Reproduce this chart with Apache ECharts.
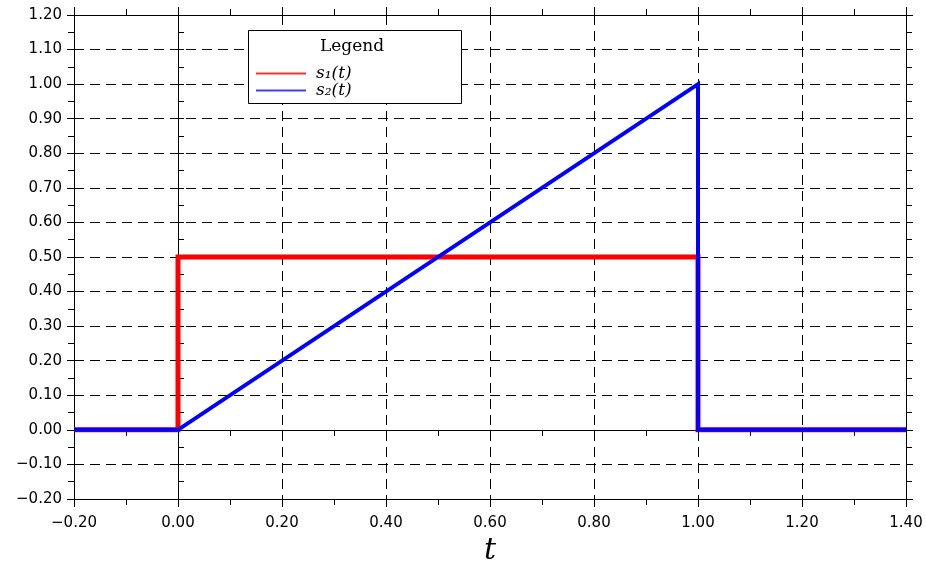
<!DOCTYPE html>
<html>
<head>
<meta charset="utf-8">
<script src="https://cdn.jsdelivr.net/npm/echarts@6/dist/echarts.min.js"></script>
<style>html,body{margin:0;padding:0;background:#fff}#c{width:926px;height:565px}</style>
</head>
<body>
<div id="c"></div>
<script>
// Data
const seriesNames = ['s\u2081(t)', 's\u2082(t)'];
const t1 = [-0.2, 0, 0, 1, 1, 1.4];
const s1 = [0, 0, 0.5, 0.5, 0, 0];
const t2 = [-0.2, 0, 1, 1, 1.4];
const s2 = [0, 0, 1, 0, 0];
const xRange = [-0.2, 1.4];
const yRange = [-0.2, 1.2];
const xStep = 0.2;
const yStep = 0.1;

const fmt = v => {
  if (Math.abs(v) < 1e-9) v = 0;
  return v.toFixed(2).replace('-', '\u2212');
};
const pairs = (xs, ys) => xs.map((x, i) => [x, ys[i]]);

const black = '#000';
const labelStyle = { fontFamily: 'DejaVu Sans', fontSize: 15, color: '#000' };
const baseX = {
  type: 'value', min: xRange[0], max: xRange[1], interval: xStep,
  axisLine: { show: true, onZero: false, lineStyle: { color: black, width: 1 } },
  axisTick: { show: true, length: 8, lineStyle: { color: black } },
  minorTick: { show: true, splitNumber: 2, length: 6, lineStyle: { color: black } },
  axisLabel: { show: false },
  splitLine: { show: false },
  minorSplitLine: { show: false }
};
const baseY = {
  type: 'value', min: yRange[0], max: yRange[1], interval: yStep,
  axisLine: { show: true, onZero: false, lineStyle: { color: black, width: 1 } },
  axisTick: { show: true, length: 7, lineStyle: { color: black } },
  minorTick: { show: true, splitNumber: 2, length: 6, lineStyle: { color: black } },
  axisLabel: { show: false },
  splitLine: { show: false },
  minorSplitLine: { show: false }
};

const option = {
  animation: false,
  backgroundColor: '#fff',
  grid: { left: 74, right: 20, top: 15, bottom: 66, containLabel: false, outerBoundsMode: 'none' },
  xAxis: [
    Object.assign({}, baseX, {
      position: 'bottom',
      axisLabel: Object.assign({ show: true, margin: 17, formatter: fmt }, labelStyle),
      splitLine: { show: true, lineStyle: { color: black, width: 1, type: [10, 6] } },
      name: 't', nameLocation: 'middle', nameGap: 32,
      nameTextStyle: { fontFamily: 'DejaVu Serif', fontStyle: 'italic', fontSize: 30, color: '#000' }
    }),
    Object.assign({}, baseX, { position: 'top' }),
    Object.assign({}, baseX, {
      position: 'bottom',
      axisLine: { show: true, onZero: true, lineStyle: { color: black, width: 1 } },
      axisTick: { show: true, length: 6, lineStyle: { color: black } }
    })
  ],
  yAxis: [
    Object.assign({}, baseY, {
      position: 'left',
      axisLabel: Object.assign({ show: true, margin: 12, formatter: fmt }, labelStyle),
      splitLine: { show: true, lineStyle: { color: black, width: 1, type: [10, 6] } }
    }),
    Object.assign({}, baseY, { position: 'right' }),
    Object.assign({}, baseY, {
      position: 'left',
      axisLine: { show: true, onZero: true, lineStyle: { color: black, width: 1 } },
      axisTick: { show: true, inside: true, length: 6, lineStyle: { color: black } }
    })
  ],
  graphic: [
    { type: 'rect', z: 10, left: 248, top: 30,
      shape: { width: 213, height: 73 },
      style: { fill: '#fff', stroke: '#000', lineWidth: 1 } },
    { type: 'text', z: 11, left: 320, top: 38,
      style: { text: 'Legend', fontFamily: 'DejaVu Serif', fontSize: 17, fill: '#000' } }
  ],
  legend: {
    z: 12,
    orient: 'vertical',
    left: 256, top: 65, padding: 0,
    itemWidth: 50, itemHeight: 2, itemGap: 0,
    icon: 'rect',
    selectedMode: false,
    textStyle: { fontFamily: 'DejaVu Serif', fontStyle: 'italic', fontSize: 17, lineHeight: 17, color: '#000', padding: [0, 0, 0, 5] },
    data: [
      { name: seriesNames[0], itemStyle: { color: '#ff3030' } },
      { name: seriesNames[1], itemStyle: { color: '#4040ff' } }
    ]
  },
  series: [
    { name: seriesNames[0], type: 'line', xAxisIndex: 0, yAxisIndex: 0,
      data: pairs(t1, s1), showSymbol: false, symbol: 'none', z: 3,
      lineStyle: { color: '#ff0000', width: 5, join: 'miter', cap: 'butt' },
      itemStyle: { color: '#ff0000' } },
    { name: seriesNames[1], type: 'line', xAxisIndex: 0, yAxisIndex: 0,
      data: pairs(t2, s2), showSymbol: false, symbol: 'none', z: 4,
      lineStyle: { color: '#0000ff', width: 4, join: 'miter', cap: 'butt' },
      itemStyle: { color: '#0000ff' } }
  ]
};
const chart = echarts.init(document.getElementById('c'), null, { renderer: 'canvas' });
chart.setOption(option);
</script>
</body>
</html>
